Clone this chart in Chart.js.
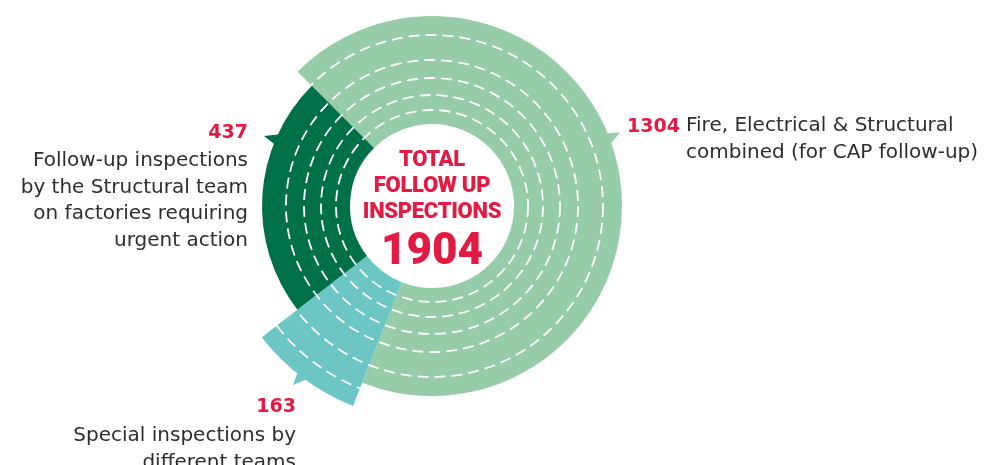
<!DOCTYPE html>
<html>
<head>
<meta charset="utf-8">
<script src="https://cdn.jsdelivr.net/npm/chart.js@4.4.1/dist/chart.umd.min.js"></script>
<style>
  body { margin: 0; background: #fff; }
  #wrap { position: relative; width: 996px; height: 465px; overflow: hidden; }
  #wrap canvas { position: absolute; left: 0; top: 0; }
  .num { position: absolute; color: #e31b44; font: bold 19px "DejaVu Sans", sans-serif; white-space: nowrap; }
  .txt { position: absolute; color: #2e2e2e; font: 20px "DejaVu Sans", sans-serif; line-height: 26.5px; white-space: nowrap; }
  .right { text-align: right; }
  #center { position: absolute; left: 332px; width: 200px; top: 146px; text-align: center; color: #e31b44; }
  #center .t { font: 900 22px "Roboto", sans-serif; line-height: 26px; letter-spacing: -0.3px; }
  #center .big { font: 900 44px "Roboto", sans-serif; line-height: 46px; margin-top: 2px; }
</style>
</head>
<body>
<div id="wrap">
  <canvas id="chart" width="996" height="465"></canvas>
  <div id="center">
    <div class="t">TOTAL</div>
    <div class="t">FOLLOW UP</div>
    <div class="t">INSPECTIONS</div>
    <div class="big" id="total"></div>
  </div>
  <div class="num" id="n0" style="left:627px; top:114px;"></div>
  <div class="txt" id="t0" style="left:686px; top:111px;"></div>
  <div class="num right" id="n2" style="right:748px; top:120px;"></div>
  <div class="txt right" id="t2" style="right:748px; top:146px;"></div>
  <div class="num right" id="n1" style="right:700px; top:394px;"></div>
  <div class="txt right" id="t1" style="right:700px; top:421px;"></div>
</div>
<script>
// valores de la gráfica (orden en sentido horario desde arriba a la izquierda)
const categories = [
  ['Fire, Electrical & Structural', 'combined (for CAP follow-up)'],
  ['Special inspections by', 'different teams'],
  ['Follow-up inspections', 'by the Structural team', 'on factories requiring', 'urgent action']
];
const values = [1304, 163, 437];
const colors = ['#96cda8', '#6cc6c4', '#007048'];

// radios de cada segmento (solo decoración)
const innerRadius = 82;
const outerRadii = [190, 215, 170];
const dashRadii = [96, 111, 128, 146, 171, 196];
// triángulos que apuntan a cada etiqueta: ángulos en grados desde arriba
const pointers = [
  { a1: 67.3, a2: 71.0, tipA: 68.6, tipR: 12 },
  { a1: 215.8, a2: 219.0, tipA: 217.8, tipR: 12 },
  { a1: 291.3, a2: 295.3, tipA: 292.6, tipR: 12 }
];

const total = values.reduce((a, b) => a + b, 0);
document.getElementById('total').textContent = total;
values.forEach((v, i) => {
  document.getElementById('n' + i).textContent = v;
  document.getElementById('t' + i).innerHTML = categories[i].join('<br>');
});

const ringPlugin = {
  id: 'rings',
  afterDatasetsUpdate(chart) {
    const meta = chart.getDatasetMeta(0);
    meta.data.forEach((arc, i) => {
      arc.innerRadius = innerRadius;
      arc.outerRadius = outerRadii[i];
    });
  },
  afterDatasetsDraw(chart) {
    const ctx = chart.ctx;
    const meta = chart.getDatasetMeta(0);
    meta.data.forEach((arc, i) => {
      const { x, y, startAngle, endAngle, outerRadius } = arc;
      // punteros
      const p = pointers[i];
      const rad = d => (d - 90) * Math.PI / 180;
      ctx.save();
      ctx.fillStyle = colors[i];
      ctx.beginPath();
      ctx.moveTo(x + (outerRadius - 2) * Math.cos(rad(p.a1)), y + (outerRadius - 2) * Math.sin(rad(p.a1)));
      ctx.lineTo(x + (outerRadius + p.tipR) * Math.cos(rad(p.tipA)), y + (outerRadius + p.tipR) * Math.sin(rad(p.tipA)));
      ctx.lineTo(x + (outerRadius - 2) * Math.cos(rad(p.a2)), y + (outerRadius - 2) * Math.sin(rad(p.a2)));
      ctx.closePath();
      ctx.fill();
      ctx.restore();

      // líneas discontinuas dentro del segmento
      ctx.save();
      ctx.beginPath();
      ctx.arc(x, y, outerRadius, startAngle, endAngle);
      ctx.arc(x, y, innerRadius, endAngle, startAngle, true);
      ctx.closePath();
      ctx.clip();
      ctx.strokeStyle = '#ffffff';
      ctx.lineWidth = 1.8;
      ctx.setLineDash([11, 6]);
      dashRadii.forEach(r => {
        ctx.beginPath();
        ctx.arc(x, y, r, 0, Math.PI * 2);
        ctx.stroke();
      });
      ctx.restore();
    });
  }
};

new Chart(document.getElementById('chart'), {
  type: 'doughnut',
  data: {
    labels: categories.map(c => c.join(' ')),
    datasets: [{
      data: values,
      backgroundColor: colors,
      borderWidth: 0
    }]
  },
  options: {
    responsive: false,
    animation: false,
    rotation: -45,
    layout: { padding: { left: 0, right: 132, top: 0, bottom: 53 } },
    plugins: { legend: { display: false }, tooltip: { enabled: false } }
  },
  plugins: [ringPlugin]
});
</script>
</body>
</html>
